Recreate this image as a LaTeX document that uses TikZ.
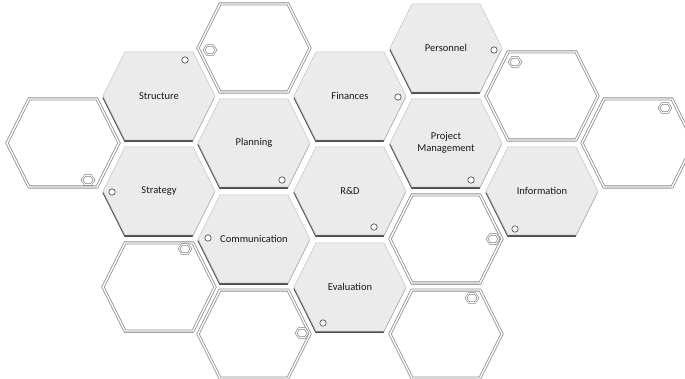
\documentclass[tikz,border=0pt]{standalone}
\usepackage{fontspec}
\setmainfont{Carlito}
\usetikzlibrary{shadows}

\begin{document}
\begin{tikzpicture}[x=1pt, y=-1pt,
    fullhex/.style={fill=black!8, draw=black!22, line width=0.5pt,
      drop shadow={shadow xshift=-0.5pt, shadow yshift=-1.8pt, fill=black!70, opacity=1}},
    emptyhex/.style={fill=white, draw=black!45, line width=0.8pt, double=white, double distance=1.4pt,
      drop shadow={shadow xshift=-0.4pt, shadow yshift=-1.3pt, fill=black!50, opacity=1}},
    fullbolt/.style={fill=white, draw=black!65, line width=0.7pt},
    emptybolt/.style={fill=white, draw=black!50, line width=0.6pt, double=white, double distance=0.9pt},
    hextext/.style={font=\fontsize{10.5}{12}\selectfont, text=black!90, align=center}]
  \useasboundingbox (0,0) rectangle (685,379);

  % Empty cells
  \foreach \cx/\cy in {63/143, 159/287, 254/48, 254/334, 446/239, 446/334, 542/96, 638/143}
    \draw[emptyhex] (\cx-56,\cy) -- (\cx-34,\cy-44) -- (\cx+34,\cy-44)
      -- (\cx+56,\cy) -- (\cx+34,\cy+44) -- (\cx-34,\cy+44) -- cycle;

  % Labelled cells
  \foreach \cx/\cy/\nm/\txt in {159/96/structure/Structure, 159/191/strategy/Strategy,
      254/143/planning/Planning, 254/239/communication/Communication,
      350/96/finances/Finances, 350/191/rnd/{R\&D}, 350/287/evaluation/Evaluation,
      446/48/personnel/Personnel, 446/143/project/{Project\\Management},
      542/191/information/Information} {
    \draw[fullhex] (\cx-56,\cy) -- (\cx-34,\cy-44) -- (\cx+34,\cy-44)
      -- (\cx+56,\cy) -- (\cx+34,\cy+44) -- (\cx-34,\cy+44) -- cycle;
    \node[hextext] (\nm) at (\cx,\cy) {\txt};
  }

  % Bolts on labelled cells
  \foreach \bx/\by in {185/60, 112/192, 282/180, 208/238, 323/323, 398/97,
      494/50, 471/180, 374/227, 515/229}
    \draw[fullbolt] (\bx,\by) circle (3.2);

  % Bolts on empty cells
  \foreach \bx/\by in {210/50, 88/180, 185/249, 302/333, 515/62, 665/108, 493/239, 472/298}
    \draw[emptybolt] (\bx-6,\by) -- (\bx-3,\by-4.5) -- (\bx+3,\by-4.5)
      -- (\bx+6,\by) -- (\bx+3,\by+4.5) -- (\bx-3,\by+4.5) -- cycle;
\end{tikzpicture}
\end{document}
